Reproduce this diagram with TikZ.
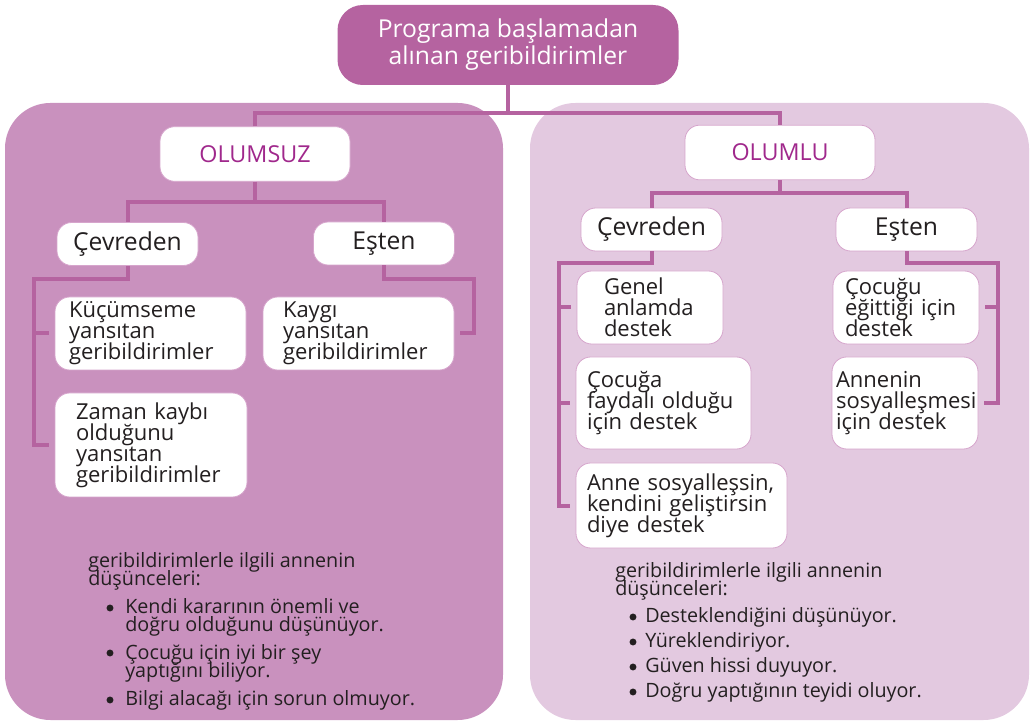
\documentclass[tikz,border=0pt]{standalone}
\usepackage{fontspec}
\setmainfont{Open Sans}
\usetikzlibrary{positioning}
\definecolor{plum}{RGB}{181,99,160}
\definecolor{plumdark}{RGB}{160,40,140}
\definecolor{leftpanel}{RGB}{201,145,190}
\definecolor{rightpanel}{RGB}{227,201,224}
\definecolor{boxline}{RGB}{214,165,204}
\definecolor{ink}{RGB}{35,31,32}
\tikzset{link/.style={draw=plum,line width=3pt},
  stub/.style={link,shorten >=4pt},
  topbox/.style={fill=plum,rounded corners=19pt,text=white,align=center,
    minimum width=255.75pt,minimum height=60pt,
    font=\fontsize{18.5}{20.25}\selectfont},
  kindbox/.style={fill=white,draw=boxline,line width=0.6pt,rounded corners=11pt,
    text=plumdark,minimum width=142.5pt,minimum height=41pt,
    font=\fontsize{17.5}{18}\selectfont},
  whobox/.style={fill=white,draw=boxline,line width=0.6pt,rounded corners=11pt,
    text=ink,minimum width=105.75pt,minimum height=32.25pt,
    font=\fontsize{18.5}{20}\selectfont},
  leaf/.style={fill=white,draw=boxline,line width=0.6pt,rounded corners=11pt,
    text=ink,align=left,inner xsep=0pt,
    font=\fontsize{16.5}{15.75}\selectfont,
    execute at begin node={\lineskiplimit=-20pt\relax\hyphenpenalty=10000\relax}},
  note/.style={text=ink,align=left,inner sep=0pt,anchor=base west,
    font=\fontsize{14.8}{13.3}\selectfont,
    execute at begin node={\lineskiplimit=-20pt\relax}},
  dot/.style={fill=ink}}

\begin{document}
\begin{tikzpicture}[x=0.75pt,y=-0.75pt]
\useasboundingbox (0,0) rectangle (1032,723);
% the two panels
\fill[leftpanel,rounded corners=34pt] (5,103) rectangle (503,720);
\fill[rightpanel,rounded corners=34pt] (530,103) rectangle (1029,720);

\node[topbox] (title) at (508,45) {Programa başlamadan\\alınan geribildirimler};

% olumsuz side
\node[kindbox] (olumsuz) at (255,154) {OLUMSUZ};
\node[whobox] (lcev) at (127.5,244) {Çevreden};
\node[whobox] (lest) at (384,243.5) {Eşten};
\node[leaf,minimum width=143.25pt,minimum height=54.75pt,text width=122.25pt] (kucum) at (150.5,333.5)
  {Küçümseme\\yansıtan\\geribildirimler};
\node[leaf,minimum width=143.25pt,minimum height=54.75pt,text width=113.25pt] (kaygi) at (358.5,333.5)
  {Kaygı\\yansıtan\\geribildirimler};
\node[leaf,minimum width=144pt,minimum height=78pt,text width=112.5pt] (zaman) at (151,445)
  {Zaman~kaybı\\olduğunu\\yansıtan\\geribildirimler};

% olumlu side
\node[kindbox] (olumlu) at (780,152.5) {OLUMLU};
\node[whobox] (rcev) at (651.5,229.5) {Çevreden};
\node[whobox] (rest) at (906.5,229.5) {Eşten};
\node[leaf,minimum width=109.5pt,minimum height=54.75pt,text width=69pt] (genel) at (650,307.5)
  {Genel\\anlamda\\destek};
\node[leaf,minimum width=131.25pt,minimum height=69pt,text width=114.75pt] (cocuga) at (663.5,403)
  {Çocuğa\\faydalı~olduğu\\için~destek};
\node[leaf,minimum width=158.25pt,minimum height=63.75pt,text width=141.75pt] (anne) at (681.5,505.5)
  {Anne~sosyalleşsin,\\kendini~geliştirsin\\diye~destek};
\node[leaf,minimum width=109.5pt,minimum height=54.75pt,text width=91.5pt] (cocugu) at (906,307.5)
  {Çocuğu\\eğittiği~için\\destek};
\node[leaf,minimum width=109.5pt,minimum height=69pt,text width=103.5pt] (annenin) at (905,403)
  {Annenin\\sosyalleşmesi\\için~destek};

% connectors
\coordinate (topbus) at (508,113);
\coordinate (lsplit) at (255,202);
\coordinate (rsplit) at (780,193);
\coordinate (lcevbus) at (34,279);
\coordinate (lestbus) at (474,279);
\coordinate (rcevbus) at (559,263);
\coordinate (restbus) at (998,263);
\draw[link] (title.south) -- (topbus);
\draw[link] (olumsuz.north) |- (topbus) -| (olumlu.north);
\draw[link] (olumsuz.south) -- (lsplit);
\draw[link] (lcev.north) |- (lsplit) -| (lest.north);
\draw[link] (olumlu.south) -- (rsplit);
\draw[link] (rcev.north) |- (rsplit) -| (rest.north);
\draw[stub] (lcev.south) |- (lcevbus) |- (zaman.west);
\draw[stub] (lcevbus |- kucum.west) -- (kucum.west);
\draw[stub] (lest.south) |- (lestbus) |- (kaygi.east);
\draw[stub] (rcev.south) |- (rcevbus) |- (anne.west);
\draw[stub] (rcevbus |- genel.west) -- (genel.west);
\draw[stub] (rcevbus |- cocuga.west) -- (cocuga.west);
\draw[stub] (rest.south) |- (restbus) |- (annenin.east);
\draw[stub] (restbus |- cocugu.east) -- (cocugu.east);

% what the mother thinks (base = last line)
\node[note] (lhead) at (88,585) {geribildirimlerle ilgili annenin\\düşünceleri:};
\node[note] (lidea1) at (125,631) {Kendi kararının önemli ve\\doğru olduğunu düşünüyor.};
\node[note] (lidea2) at (125,677) {Çocuğu için iyi bir şey\\yaptığını biliyor.};
\node[note] (lidea3) at (125,705) {Bilgi alacağı için sorun olmuyor.};
\node[note] (rhead) at (615,595) {geribildirimlerle ilgili annenin\\düşünceleri:};
\node[note] (ridea1) at (645,622) {Desteklendiğini düşünüyor.};
\node[note] (ridea2) at (645,647) {Yüreklendiriyor.};
\node[note] (ridea3) at (645,672) {Güven hissi duyuyor.};
\node[note] (ridea4) at (645,697) {Doğru yaptığının teyidi oluyor.};
\foreach \y in {608,653,700} \fill[dot] (110,\y) circle (2.6pt);
\foreach \y in {617,642,667,692} \fill[dot] (633,\y) circle (2.6pt);
\end{tikzpicture}
\end{document}
